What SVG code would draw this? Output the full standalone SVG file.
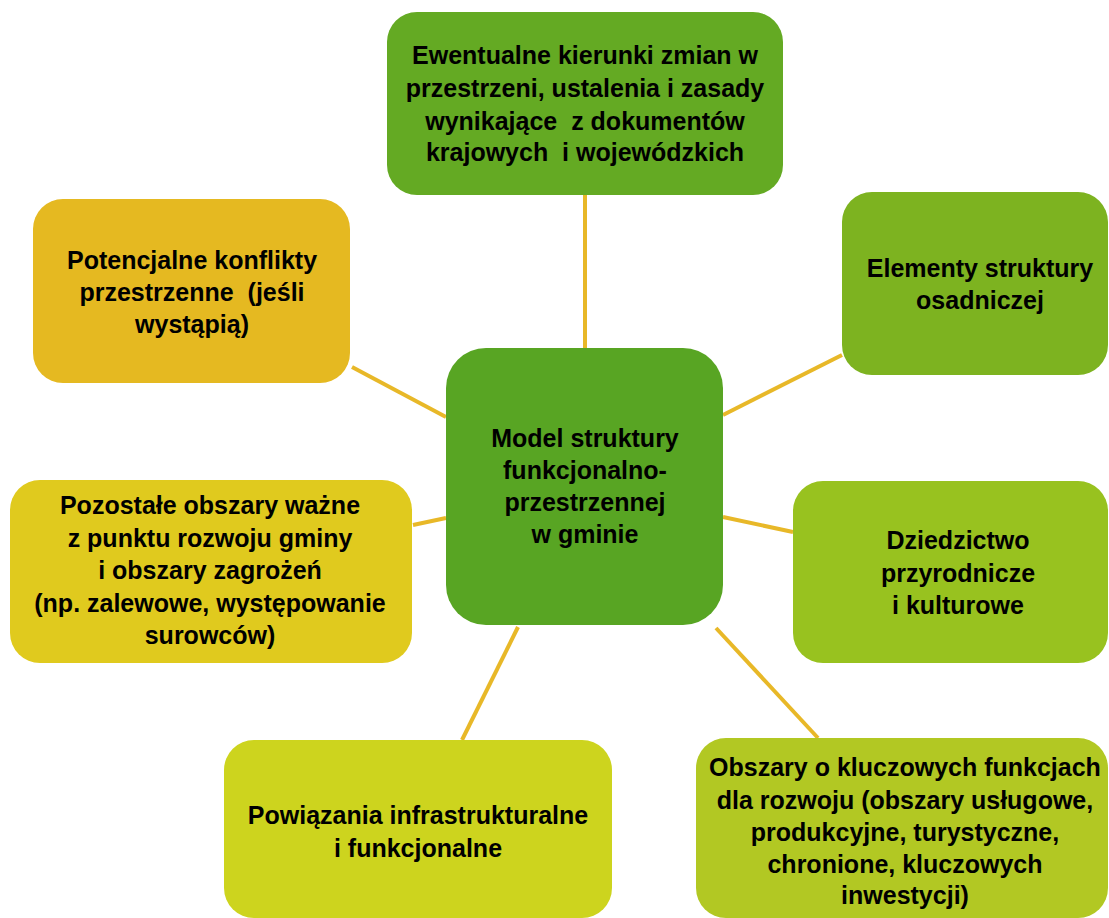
<svg xmlns="http://www.w3.org/2000/svg" width="1109" height="918" viewBox="0 0 1109 918">
<style>
.t{font-family:"Liberation Sans",Arial,sans-serif;font-weight:bold;font-size:25px;fill:#000;text-anchor:middle}
.c{stroke:#E8B828;stroke-width:4;fill:none}
</style>
<rect width="1109" height="918" fill="#fff"/>
<g id="connectors">
<line class="c" x1="585" y1="195" x2="585" y2="348"/>
<line class="c" x1="352" y1="367" x2="446" y2="417"/>
<line class="c" x1="842" y1="355" x2="723" y2="415"/>
<line class="c" x1="413" y1="525" x2="446" y2="518"/>
<line class="c" x1="723" y1="517" x2="793" y2="532"/>
<line class="c" x1="518" y1="627" x2="462" y2="740"/>
<line class="c" x1="716" y1="628" x2="818" y2="738"/>
</g>
<g id="top">
<rect x="387" y="12" width="396" height="183" rx="30" fill="#64AA23"/>
<text class="t" x="585" y="64">Ewentualne kierunki zmian w</text>
<text class="t" x="585" y="97">przestrzeni, ustalenia i zasady</text>
<text class="t" x="585" y="130" xml:space="preserve">wynikające  z dokumentów</text>
<text class="t" x="585" y="161" xml:space="preserve">krajowych  i wojewódzkich</text>
</g>
<g id="potencjalne">
<rect x="33" y="199" width="317" height="184" rx="30" fill="#E5B921"/>
<text class="t" x="192" y="269">Potencjalne konflikty</text>
<text class="t" x="192" y="301" xml:space="preserve">przestrzenne  (jeśli</text>
<text class="t" x="192" y="333">wystąpią)</text>
</g>
<g id="center">
<rect x="446" y="348" width="277" height="277" rx="40" fill="#58A523"/>
<text class="t" x="585" y="447">Model struktury</text>
<text class="t" x="585" y="479">funkcjonalno-</text>
<text class="t" x="585" y="511">przestrzennej</text>
<text class="t" x="585" y="543">w gminie</text>
</g>
<g id="elementy">
<rect x="842" y="192" width="266" height="183" rx="30" fill="#7DB320"/>
<text class="t" x="980" y="277">Elementy struktury</text>
<text class="t" x="980" y="309">osadniczej</text>
</g>
<g id="dziedzictwo">
<rect x="793" y="481" width="315" height="182" rx="30" fill="#98C21F"/>
<text class="t" x="958" y="549">Dziedzictwo</text>
<text class="t" x="958" y="582">przyrodnicze</text>
<text class="t" x="958" y="614">i kulturowe</text>
</g>
<g id="pozostale">
<rect x="10" y="480" width="402" height="183" rx="30" fill="#E0CA1E"/>
<text class="t" x="210" y="514">Pozostałe obszary ważne</text>
<text class="t" x="210" y="547">z punktu rozwoju gminy</text>
<text class="t" x="210" y="579">i obszary zagrożeń</text>
<text class="t" x="210" y="612">(np. zalewowe, występowanie</text>
<text class="t" x="210" y="644">surowców)</text>
</g>
<g id="powiazania">
<rect x="224" y="740" width="388" height="178" rx="30" fill="#CDD41E"/>
<text class="t" x="418" y="824">Powiązania infrastrukturalne</text>
<text class="t" x="418" y="857">i funkcjonalne</text>
</g>
<g id="obszary">
<rect x="696" y="738" width="412" height="180" rx="30" fill="#B2C823"/>
<text class="t" x="905" y="776">Obszary o kluczowych funkcjach</text>
<text class="t" x="905" y="809">dla rozwoju (obszary usługowe,</text>
<text class="t" x="905" y="841">produkcyjne, turystyczne,</text>
<text class="t" x="905" y="873">chronione, kluczowych</text>
<text class="t" x="905" y="904">inwestycji)</text>
</g>
</svg>
